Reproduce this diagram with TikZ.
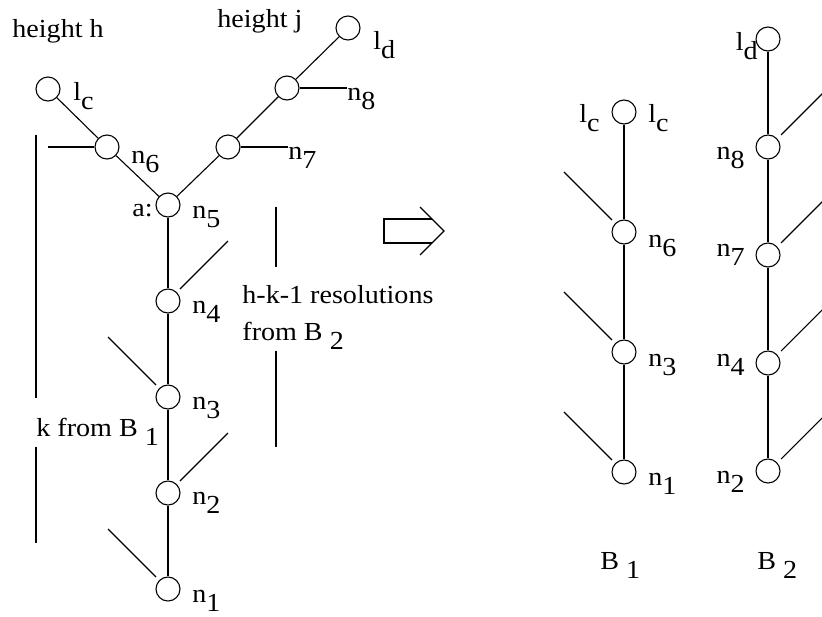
\documentclass[tikz,border=0pt]{standalone}
\usepackage{fontspec}
\setmainfont{Liberation Serif}[FakeStretch=1.08]
\usetikzlibrary{calc}
\tikzstyle{vtx} = [circle, draw=black, line width=0.55pt, minimum size=12pt, inner sep=0pt]
\tikzstyle{lbl} = [inner sep=0pt, anchor=base west]
\tikzstyle{lblr} = [inner sep=0pt, anchor=base east]
\tikzstyle{edge} = [line width=0.55pt]
\newcommand{\lsub}[1]{\raisebox{-0.38em}{#1}}

\begin{document}
\begin{tikzpicture}[x=0.5pt, y=-0.5pt, node distance=48pt, font=\fontsize{13}{15}\selectfont]
\clip (0,0) rectangle (822,616);

% left tree
\node (lc) [vtx] at (48,89) {};
\node (n6) [vtx] at (107,147) {};
\node (n5) [vtx] at (168,205) {};
\node (n7) [vtx] at (228,147) {};
\node (n8) [vtx] at (287,88) {};
\node (ld) [vtx] at (348,28) {};
\node (n4) [vtx, below of=n5] {};
\node (n3) [vtx, below of=n4] {};
\node (n2) [vtx, below of=n3] {};
\node (n1) [vtx, below of=n2] {};

\node (hh) [lbl] at (12,37) {height h};
\node (hj) [lbl] at (217,27) {height j};
\node (tlc) [lbl] at ($(lc)+(25,11)$) {l\lsub{c}};
\node (tld) [lbl] at ($(ld)+(25,21)$) {l\lsub{d}};
\node (t6) [lbl] at ($(n6)+(24,16)$) {n\lsub{6}};
\node (ta) [lblr] at ($(n5)+(-15,11)$) {a:};
\node (t5) [lbl] at ($(n5)+(24,13)$) {n\lsub{5}};
\node (t7) [lbl] at (288,159) {n\lsub{7}};
\node (t8) [lbl] at (347,100) {n\lsub{8}};
\node (t4) [lbl] at ($(n4)+(24,12)$) {n\lsub{4}};
\node (t3) [lbl] at ($(n3)+(24,12)$) {n\lsub{3}};
\node (t2) [lbl] at ($(n2)+(24,11)$) {n\lsub{2}};
\node (t1) [lbl] at ($(n1)+(24,13)$) {n\lsub{1}};
\node (tk) [lbl] at (36,436) {k from B \lsub{1}};
\node (tres) [lbl] at (242,303) {h-k-1 resolutions};
\node (tfrom) [lbl] at (242,340) {from B \lsub{2}};

\draw [edge] (lc) -- (n6);
\draw [edge] (n6) -- (n5);
\draw [edge] (n5) -- (n7);
\draw [edge] (n7) -- (n8);
\draw [edge] (n8) -- (ld);
\draw [edge] (n5) -- (n4);
\draw [edge] (n4) -- (n3);
\draw [edge] (n3) -- (n2);
\draw [edge] (n2) -- (n1);
\coordinate (h6) at (48,147);
\draw [edge] (n6) -- (h6);
\draw [edge] (n7) -- (n7 -| t7.west);
\draw [edge] (n8) -- (n8 -| t8.west);
\draw [edge] ($(n4)+(12,-12)$) -- ($(n4)+(60,-60)$);
\draw [edge] ($(n3)+(-12,-12)$) -- ($(n3)+(-60,-60)$);
\draw [edge] ($(n2)+(12,-12)$) -- ($(n2)+(60,-60)$);
\draw [edge] ($(n1)+(-12,-12)$) -- ($(n1)+(-60,-60)$);

% bars
\draw [edge] (36,135) -- (36,398);
\draw [edge] (36,447) -- (36,543);
\draw [edge] (276,207) -- (276,267);
\draw [edge] (276,351) -- (276,447);

% arrow
\draw [edge] (432,219) -- (384,219) -- (384,243) -- (432,243);
\draw [edge] (420,207) -- (444,231) -- (420,255);

% B1
\node (b1lc) [vtx] at (624,112) {};
\node (b1n6) [vtx, node distance=60pt, below of=b1lc] {};
\node (b1n3) [vtx, node distance=60pt, below of=b1n6] {};
\node (b1n1) [vtx, node distance=60pt, below of=b1n3] {};
\node (s1lc) [lblr] at ($(b1lc)+(-24,10)$) {l\lsub{c}};
\node (r1lc) [lbl] at ($(b1lc)+(24,10)$) {l\lsub{c}};
\node (r1n6) [lbl] at ($(b1n6)+(24,15)$) {n\lsub{6}};
\node (r1n3) [lbl] at ($(b1n3)+(24,14)$) {n\lsub{3}};
\node (r1n1) [lbl] at ($(b1n1)+(24,13)$) {n\lsub{1}};
\node (tb1) [lbl] at (600,569) {B \lsub{1}};
\draw [edge] (b1lc) -- (b1n6);
\draw [edge] (b1n6) -- (b1n3);
\draw [edge] (b1n3) -- (b1n1);
\draw [edge] ($(b1n6)+(-12,-12)$) -- ($(b1n6)+(-60,-60)$);
\draw [edge] ($(b1n3)+(-12,-12)$) -- ($(b1n3)+(-60,-60)$);
\draw [edge] ($(b1n1)+(-12,-12)$) -- ($(b1n1)+(-60,-60)$);

% B2
\node (b2ld) [vtx] at (768,39) {};
\node (b2n8) [vtx, node distance=54pt, below of=b2ld] {};
\node (b2n7) [vtx, node distance=54pt, below of=b2n8] {};
\node (b2n4) [vtx, node distance=54pt, below of=b2n7] {};
\node (b2n2) [vtx, node distance=54pt, below of=b2n4] {};
\node (s2ld) [lblr] at ($(b2ld)+(-10,11)$) {l\lsub{d}};
\node (s2n8) [lblr] at ($(b2n8)+(-23,12)$) {n\lsub{8}};
\node (s2n7) [lblr] at ($(b2n7)+(-23,1)$) {n\lsub{7}};
\node (s2n4) [lblr] at ($(b2n4)+(-23,3)$) {n\lsub{4}};
\node (s2n2) [lblr] at ($(b2n2)+(-23,12)$) {n\lsub{2}};
\node (tb2) [lbl] at (757,569) {B \lsub{2}};
\draw [edge] (b2ld) -- (b2n8);
\draw [edge] (b2n8) -- (b2n7);
\draw [edge] (b2n7) -- (b2n4);
\draw [edge] (b2n4) -- (b2n2);
\draw [edge] ($(b2n8)+(13,-12)$) -- ($(b2n8)+(61,-60)$);
\draw [edge] ($(b2n7)+(13,-12)$) -- ($(b2n7)+(61,-60)$);
\draw [edge] ($(b2n4)+(13,-12)$) -- ($(b2n4)+(61,-60)$);
\draw [edge] ($(b2n2)+(13,-12)$) -- ($(b2n2)+(61,-60)$);

\end{tikzpicture}
\end{document}
